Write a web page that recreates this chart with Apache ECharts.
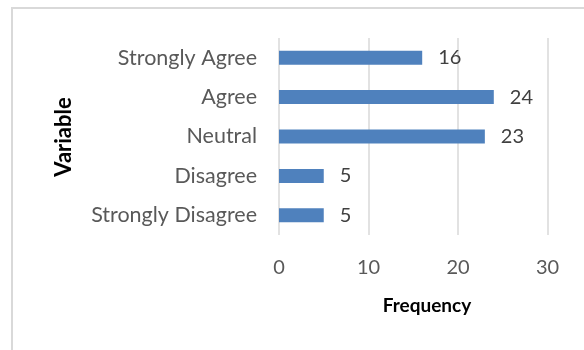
<!DOCTYPE html>
<html>
<head>
<meta charset="utf-8">
<script src="https://cdn.jsdelivr.net/npm/echarts@6/dist/echarts.min.js"></script>
<style>html,body{margin:0;padding:0;background:#fff}#c{width:584px;height:350px}</style>
</head>
<body>
<div id="c"></div>
<script>
const categories = ["Strongly Disagree", "Disagree", "Neutral", "Agree", "Strongly Agree"];
const frequency = [5, 5, 23, 24, 16];
const xTicks = { min: 0, max: 30, interval: 10 };
const xTitle = "Frequency";
const yTitle = "Variable";

const chart = echarts.init(document.getElementById('c'), null, { renderer: 'canvas' });
chart.setOption({
  animation: false,
  backgroundColor: '#ffffff',
  textStyle: { fontFamily: 'Lato' },
  grid: { left: 279, right: 36.5, top: 38, bottom: 115 },
  xAxis: {
    type: 'value', min: xTicks.min, max: xTicks.max, interval: xTicks.interval,
    axisLine: { show: false }, axisTick: { show: false },
    splitLine: { show: true, lineStyle: { color: '#d9d9d9', width: 1.5 } },
    axisLabel: { color: '#595959', fontSize: 20, fontFamily: 'Lato', margin: 23 }
  },
  yAxis: {
    type: 'category', data: categories,
    axisLine: { show: false }, axisTick: { show: false },
    axisLabel: { color: '#595959', fontSize: 21.5, fontFamily: 'Lato', margin: 22 }
  },
  graphic: [
    { type: 'rect', shape: { x: 12, y: 8, width: 700, height: 500 },
      style: { fill: 'none', stroke: '#d9d9d9', lineWidth: 2 }, silent: true, z: -10 },
    { type: 'text', x: 427, y: 306,
      style: { text: xTitle, font: 'bold 19px Lato', fill: '#000000', textAlign: 'center', textVerticalAlign: 'middle' } },
    { type: 'text', x: 64, y: 137, rotation: Math.PI / 2,
      style: { text: yTitle, font: 'bold 22px Lato', fill: '#000000', textAlign: 'center', textVerticalAlign: 'middle' } }
  ],
  series: [{
    type: 'bar', data: frequency, barWidth: 14,
    itemStyle: { color: '#4f81bd' },
    label: { show: true, position: 'right', distance: 16, color: '#404040', fontSize: 20, fontFamily: 'Lato' }
  }]
});
</script>
</body>
</html>
